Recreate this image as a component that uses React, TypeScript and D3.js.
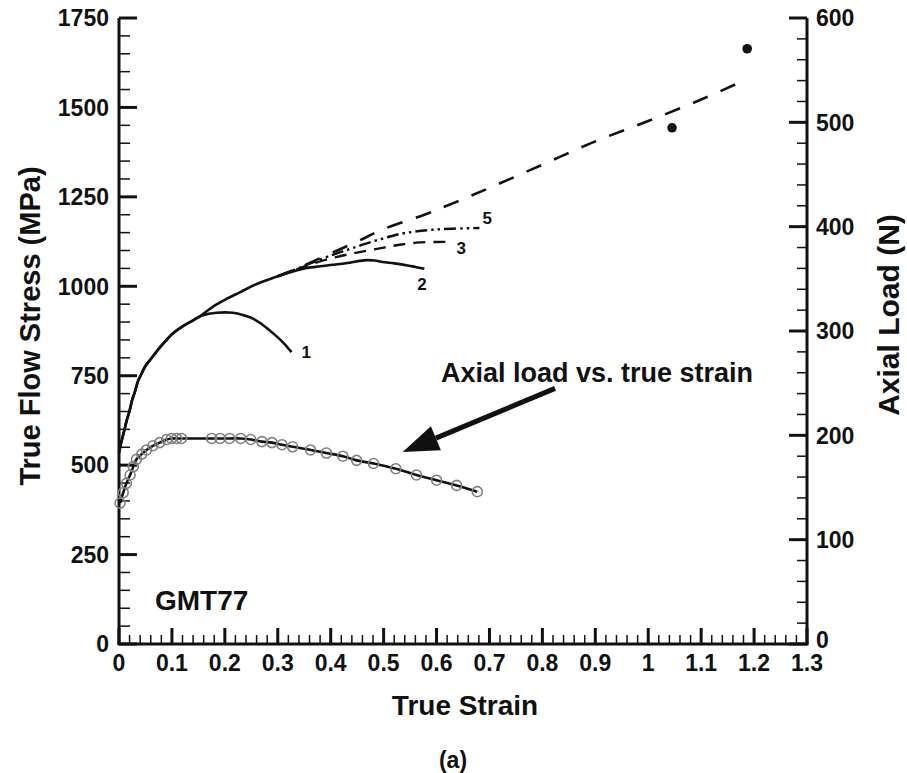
import React from "react";
import * as d3 from "d3";

// ---------- DATA ----------
const xTicks = [0, 0.1, 0.2, 0.3, 0.4, 0.5, 0.6, 0.7, 0.8, 0.9, 1.0, 1.1, 1.2, 1.3];
const stressTicks = [0, 250, 500, 750, 1000, 1250, 1500, 1750];
const loadTicks = [0, 100, 200, 300, 400, 500, 600];

// common initial flow curve (strain, MPa)
const commonCurve: [number, number][] = [
  [0, 535], [0.005, 568], [0.01, 597], [0.015, 627], [0.02, 652], [0.025, 683],
  [0.03, 705], [0.036, 735], [0.043, 757], [0.05, 777], [0.062, 800], [0.075, 825],
  [0.09, 850], [0.1, 866], [0.12, 888], [0.14, 905], [0.153, 916],
];
const curve1Tail: [number, number][] = [
  [0.17, 923], [0.185, 926], [0.2, 927], [0.215, 926], [0.234, 920], [0.25, 912],
  [0.266, 898], [0.282, 880], [0.298, 860], [0.312, 840], [0.326, 816],
];
const curve2Tail: [number, number][] = [
  [0.17, 935], [0.185, 950], [0.205, 966], [0.228, 983], [0.255, 1003], [0.279, 1017],
  [0.3, 1028], [0.317, 1036], [0.335, 1044], [0.355, 1051], [0.38, 1056], [0.404, 1060],
  [0.436, 1066], [0.455, 1071], [0.468, 1073], [0.483, 1072], [0.498, 1068], [0.52, 1064],
  [0.543, 1059], [0.56, 1054], [0.577, 1049],
];
const curve3: [number, number][] = [
  [0.3, 1028], [0.33, 1044], [0.36, 1060], [0.4, 1078], [0.436, 1090], [0.47, 1100],
  [0.5, 1108], [0.53, 1116], [0.562, 1122], [0.6, 1124], [0.63, 1124],
];
const curve5: [number, number][] = [
  [0.3, 1028], [0.33, 1045], [0.36, 1063], [0.404, 1088], [0.436, 1104], [0.468, 1120],
  [0.5, 1134], [0.53, 1146], [0.56, 1153], [0.592, 1158], [0.63, 1161], [0.681, 1163],
];
const curveExtrap: [number, number][] = [
  [0.3, 1028], [0.33, 1046], [0.36, 1065], [0.4, 1092], [0.45, 1125], [0.5, 1160],
  [0.577, 1200], [0.634, 1234], [0.7, 1275], [0.8, 1340], [0.9, 1405], [1.0, 1462],
  [1.1, 1522], [1.185, 1578],
];
const fracturePoints: [number, number][] = [[1.045, 1443], [1.187, 1664]];

// axial load (strain, N)
const loadStrain = [
  0.002, 0.008, 0.014, 0.021, 0.027, 0.033, 0.043, 0.052, 0.064, 0.077, 0.09, 0.099,
  0.109, 0.118, 0.175, 0.191, 0.209, 0.23, 0.249, 0.27, 0.289, 0.308, 0.328, 0.362,
  0.392, 0.423, 0.449, 0.481, 0.523, 0.562, 0.6, 0.638, 0.677,
];
const loadValues = [
  135, 145, 154, 162, 170, 177, 182, 186, 190, 193, 196, 197,
  197, 197, 197, 197, 197, 197, 196, 194, 193, 191, 189, 186,
  183, 180, 176, 173, 168, 162, 157, 152, 146,
];

// ---------- LAYOUT ----------
const W = 907;
const H = 773;
const FONT = "'Liberation Sans', Arial, Helvetica, sans-serif";
const INK = "#111";

export default function App() {
  const x = d3.scaleLinear().domain([0, 1.3]).range([119, 807]);
  const yS = d3.scaleLinear().domain([0, 1750]).range([644, 18]);
  const yL = d3.scaleLinear().domain([0, 600]).range([644, 18]);

  const lineS = d3
    .line<[number, number]>()
    .x((d) => x(d[0]))
    .y((d) => yS(d[1]))
    .curve(d3.curveCatmullRom.alpha(0.5));
  const loadPts: [number, number][] = loadStrain.map((s, i) => [s, loadValues[i]]);
  const lineL = d3
    .line<[number, number]>()
    .x((d) => x(d[0]))
    .y((d) => yL(d[1]))
    .curve(d3.curveCatmullRom.alpha(0.5));

  const xMinor = d3.range(0, 1.3001, 0.02).filter((v) => Math.abs(v * 10 - Math.round(v * 10)) > 1e-6);
  const sMinor = d3.range(0, 1750.1, 50).filter((v) => v % 250 !== 0);
  const lMinor = d3.range(0, 600.1, 20).filter((v) => v % 100 !== 0);

  const fmt = (v: number) => String(+v.toFixed(1));

  const curve1 = [...commonCurve, ...curve1Tail];
  const curve2 = [...commonCurve, ...curve2Tail];

  // annotation arrow (in data coords: strain, N)
  const arrowFrom: [number, number] = [0.824, 245];
  const arrowTo: [number, number] = [0.536, 184];
  const ax1 = x(arrowFrom[0]), ay1 = yL(arrowFrom[1]);
  const ax2 = x(arrowTo[0]), ay2 = yL(arrowTo[1]);
  const ang = Math.atan2(ay2 - ay1, ax2 - ax1);
  const headL = 36, headW = 13;
  const bx = ax2 - headL * Math.cos(ang), by = ay2 - headL * Math.sin(ang);
  const px = -Math.sin(ang), py = Math.cos(ang);
  const head = `M${ax2},${ay2} L${bx + headW * px},${by + headW * py} L${bx - headW * px},${by - headW * py} Z`;

  return (
    <svg
      width={W}
      height={H}
      viewBox={`0 0 ${W} ${H}`}
      style={{ position: "absolute", left: 0, top: 0, background: "#fff" }}
      fontFamily={FONT}
      fontWeight="bold"
    >
      <rect width={W} height={H} fill="#fff" />

      {/* axes */}
      <line x1={119} x2={119} y1={18} y2={644} stroke={INK} strokeWidth={3} />
      <line x1={807} x2={807} y1={18} y2={644} stroke={INK} strokeWidth={3} />
      <line x1={117.5} x2={808.5} y1={644} y2={644} stroke={INK} strokeWidth={3} />

      {/* x ticks */}
      {xTicks.map((v) => (
        <g key={"xt" + v}>
          <line x1={x(v)} x2={x(v)} y1={644} y2={628} stroke={INK} strokeWidth={3} />
          <text x={x(v)} y={671} textAnchor="middle" fontSize={23} fill={INK}>
            {fmt(v)}
          </text>
        </g>
      ))}
      {xMinor.map((v) => (
        <line key={"xm" + v} x1={x(v)} x2={x(v)} y1={644} y2={635} stroke={INK} strokeWidth={1.5} />
      ))}

      {/* left ticks */}
      {stressTicks.map((v) => (
        <g key={"st" + v}>
          <line x1={119} x2={137} y1={yS(v)} y2={yS(v)} stroke={INK} strokeWidth={3} />
          <text x={109} y={yS(v)} dy="0.36em" textAnchor="end" fontSize={23} fill={INK}>
            {v}
          </text>
        </g>
      ))}
      {sMinor.map((v) => (
        <line key={"sm" + v} x1={119} x2={130} y1={yS(v)} y2={yS(v)} stroke={INK} strokeWidth={1.5} />
      ))}

      {/* right ticks */}
      {loadTicks.map((v) => (
        <g key={"lt" + v}>
          <line x1={807} x2={789} y1={yL(v)} y2={yL(v)} stroke={INK} strokeWidth={3} />
          <text x={816} y={v === 0 ? yL(v) - 4 : yL(v)} dy="0.36em" textAnchor="start" fontSize={23} fill={INK}>
            {v}
          </text>
        </g>
      ))}
      {lMinor.map((v) => (
        <line key={"lm" + v} x1={807} x2={797} y1={yL(v)} y2={yL(v)} stroke={INK} strokeWidth={1.5} />
      ))}

      {/* titles */}
      <text x={465} y={715} textAnchor="middle" fontSize={28} fill={INK}>
        True Strain
      </text>
      <text transform="translate(40,326) rotate(-90)" textAnchor="middle" fontSize={29} fill={INK}>
        True Flow Stress (MPa)
      </text>
      <text transform="translate(899,315) rotate(-90)" textAnchor="middle" fontSize={30} fill={INK}>
        Axial Load (N)
      </text>
      <text x={155} y={610} fontSize={28} fill={INK}>
        GMT77
      </text>
      <text x={453} y={768} textAnchor="middle" fontSize={23} fill={INK}>
        (a)
      </text>

      {/* flow curves */}
      <path d={lineS(curveExtrap) || ""} fill="none" stroke={INK} strokeWidth={2.6} strokeDasharray="16,14" />
      <path d={lineS(curve3) || ""} fill="none" stroke={INK} strokeWidth={2.4} strokeDasharray="12,8" />
      <path d={lineS(curve5) || ""} fill="none" stroke={INK} strokeWidth={2.4} strokeDasharray="12,4,2.5,4,2.5,4" />
      <path d={lineS(curve1) || ""} fill="none" stroke={INK} strokeWidth={2.6} />
      <path d={lineS(curve2) || ""} fill="none" stroke={INK} strokeWidth={2.6} />

      {fracturePoints.map((d, i) => (
        <circle key={"fp" + i} cx={x(d[0])} cy={yS(d[1])} r={4.8} fill={INK} />
      ))}

      {/* curve labels */}
      <text x={x(0.326) + 10} y={yS(816) + 6} fontSize={17} fill={INK}>1</text>
      <text x={x(0.577) - 7} y={yS(1049) + 21} fontSize={17} fill={INK}>2</text>
      <text x={x(0.63) + 4} y={yS(1124) + 12} fontSize={17} fill={INK}>3</text>
      <text x={x(0.681) + 3} y={yS(1163) - 4} fontSize={17} fill={INK}>5</text>

      {/* axial load curve */}
      <path d={lineL(loadPts) || ""} fill="none" stroke={INK} strokeWidth={2.6} />
      {loadPts.map((d, i) => (
        <circle key={"lp" + i} cx={x(d[0])} cy={yL(d[1])} r={5} fill="none" stroke="#808080" strokeWidth={1.6} />
      ))}

      {/* annotation */}
      <text x={441} y={382} fontSize={27} fill={INK}>
        Axial load vs. true strain
      </text>
      <line x1={ax1} y1={ay1} x2={bx} y2={by} stroke={INK} strokeWidth={5} />
      <path d={head} fill={INK} />
    </svg>
  );
}
